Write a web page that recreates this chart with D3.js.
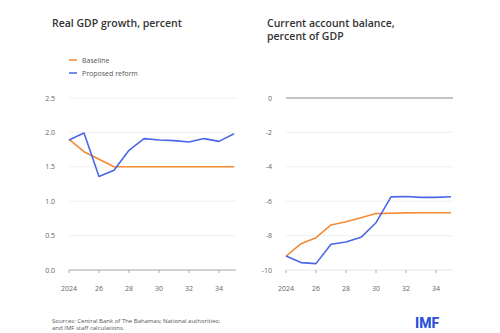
<!DOCTYPE html>
<html>
<head>
<meta charset="utf-8">
<script src="https://cdn.jsdelivr.net/npm/d3@7"></script>
<style>
  body { margin: 0; background: #fff; }
  svg { display: block; font-family: "Open Sans", Lato, sans-serif; }
</style>
</head>
<body>
<svg id="chart"></svg>
<script>
const width = 500;
const height = 333;
const years = [2024, 2025, 2026, 2027, 2028, 2029, 2030, 2031, 2032, 2033, 2034, 2035];
const xTicks = [2024, 2026, 2028, 2030, 2032, 2034];
const xTickLabels = ["2024", "26", "28", "30", "32", "34"];
// real GDP growth, percent
const gdpBaseline = [1.9, 1.72, 1.61, 1.5, 1.5, 1.5, 1.5, 1.5, 1.5, 1.5, 1.5, 1.5];
const gdpReform = [1.89, 1.99, 1.36, 1.45, 1.74, 1.91, 1.89, 1.88, 1.86, 1.91, 1.87, 1.98];
const gdpTicks = [0, 0.5, 1, 1.5, 2, 2.5];
// current account balance, percent of GDP
const caBaseline = [-9.2, -8.47, -8.12, -7.38, -7.2, -6.96, -6.72, -6.7, -6.68, -6.67, -6.67, -6.67];
const caReform = [-9.19, -9.57, -9.63, -8.5, -8.37, -8.1, -7.25, -5.75, -5.73, -5.78, -5.78, -5.74];
const caTicks = [0, -2, -4, -6, -8, -10];
const seriesNames = ["Baseline", "Proposed reform"];
const orange = "#f58a35";
const blue = "#4a67e8";
const svg = d3.select("#chart")
    .attr("width", width)
    .attr("height", height);
// titles
svg.append("text").attr("x", 52).attr("y", 27)
    .attr("font-size", 10.5).attr("font-weight", 600).attr("fill", "#333")
    .text("Real GDP growth, percent");
svg.append("text").attr("x", 267).attr("y", 27)
    .attr("font-size", 10.5).attr("font-weight", 600).attr("fill", "#333")
    .text("Current account balance,");
svg.append("text").attr("x", 267).attr("y", 40)
    .attr("font-size", 10.5).attr("font-weight", 600).attr("fill", "#333")
    .text("percent of GDP");
// legend
const legend = svg.append("g");
[orange, blue].forEach((c, i) => {
    const y = 60 + i * 13;
    legend.append("line")
        .attr("x1", 69).attr("x2", 77).attr("y1", y).attr("y2", y)
        .attr("stroke", c).attr("stroke-width", 1.5);
    legend.append("text")
        .attr("x", 82).attr("y", y + 2.5)
        .attr("font-size", 7).attr("fill", "#555")
        .text(seriesNames[i]);
});
// draw one panel of two lines
const drawPanel = (left, right, domain, ticks, fmt, series, zeroLine) => {
    const x = d3.scaleLinear().domain([2024, 2035]).range([left, right]);
    const y = d3.scaleLinear().domain(domain).range([270, 98]);
    const g = svg.append("g");
    g.selectAll(".grid")
        .data(ticks)
        .enter()
        .append("line")
        .attr("x1", left).attr("x2", right + 2)
        .attr("y1", d => y(d)).attr("y2", d => y(d))
        .attr("stroke", d => (zeroLine && d === 0) ? "#888" : "#ececec")
        .attr("stroke-width", d => (zeroLine && d === 0) ? 1.2 : 0.8);
    g.selectAll(".ylab")
        .data(ticks)
        .enter()
        .append("text")
        .attr("x", left - 14).attr("y", d => y(d) + 2.5)
        .attr("text-anchor", "end")
        .attr("font-size", 7).attr("fill", "#666")
        .text(fmt);
    // x axis
    const axisY = y(domain[0]);
    g.append("line")
        .attr("x1", left).attr("x2", right + 2)
        .attr("y1", axisY).attr("y2", axisY)
        .attr("stroke", zeroLine ? "#ececec" : "#999").attr("stroke-width", 0.8);
    g.selectAll(".tick")
        .data(xTicks)
        .enter()
        .append("line")
        .attr("x1", d => x(d)).attr("x2", d => x(d))
        .attr("y1", axisY).attr("y2", axisY + 3)
        .attr("stroke", "#999").attr("stroke-width", 0.8);
    g.selectAll(".xlab")
        .data(xTicks)
        .enter()
        .append("text")
        .attr("x", d => x(d)).attr("y", 291)
        .attr("text-anchor", "middle")
        .attr("font-size", 7).attr("fill", "#666")
        .text((d, i) => xTickLabels[i]);
    const line = d3.line().x((d, i) => x(years[i])).y(d => y(d));
    series.forEach((s, i) => {
        g.append("path")
            .attr("d", line(s))
            .attr("fill", "none")
            .attr("stroke", [orange, blue][i])
            .attr("stroke-width", 1.6)
            .attr("stroke-linejoin", "round");
    });
};
drawPanel(69, 234, [0, 2.5], gdpTicks, d3.format(".1f"), [gdpBaseline, gdpReform], false);
drawPanel(286, 451, [-10, 0], caTicks, d => d, [caBaseline, caReform], true);
// footer
svg.append("text").attr("x", 52).attr("y", 323)
    .attr("font-size", 6).attr("fill", "#555")
    .text("Sources: Central Bank of The Bahamas; National authorities;");
svg.append("text").attr("x", 52).attr("y", 330)
    .attr("font-size", 6).attr("fill", "#555")
    .text("and IMF staff calculations.");
svg.append("text").attr("x", 415).attr("y", 328)
    .attr("font-size", 14).attr("font-weight", 800).attr("fill", "#2c4fd6")
    .attr("font-family", "Roboto, sans-serif")
    .text("IMF");
</script>
</body>
</html>
